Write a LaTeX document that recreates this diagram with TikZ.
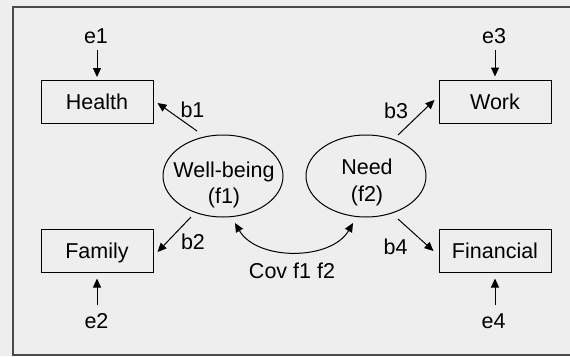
\documentclass[tikz,border=0pt]{standalone}
\usepackage{fontspec}
\setmainfont{Liberation Sans}
\usetikzlibrary{arrows.meta,calc,shapes.geometric}
\definecolor{bg}{HTML}{EEEEEE}
\definecolor{framec}{HTML}{4A4A4A}
\definecolor{inkc}{HTML}{000000}
\tikzset{
  txt/.style={font=\fontsize{21.5}{26}\selectfont, inner sep=0pt, text=inkc},
  boxnode/.style={draw=inkc, line width=1pt, minimum width=112pt, minimum height=43pt,
    inner sep=0pt, text height=15.5pt, text depth=0pt, font=\fontsize{21.5}{26}\selectfont, text=inkc},
  latent/.style={draw=inkc, line width=1pt, ellipse, minimum width=120pt, minimum height=82pt, inner sep=0pt},
  arr/.style={draw=inkc, line width=1pt, -{Triangle[length=9pt,width=8pt]}},
  darr/.style={draw=inkc, line width=1pt, {Triangle[length=9pt,width=8pt]}-{Triangle[length=9pt,width=8pt]}},
}
\begin{document}
\begin{tikzpicture}[x=1pt,y=-1pt]
\useasboundingbox (0,0) rectangle (570,356);
\fill[bg] (0,0) rectangle (570,356);
\draw[framec, line width=1.5pt] (571,7) -- (13,7) -- (13,355) -- (571,355);

% observed variables
\node[boxnode] (health) at (97,102) {Health};
\node[boxnode] (work) at (495,101.5) {Work};
\node[boxnode] (family) at (97,250.5) {Family};
\node[boxnode] (financial) at (495,250.5) {Financial};

% latent factors
\node[latent] (wb) at (223,176) {};
\node[latent] (need) at (366,176) {};
\node[txt, anchor=base] (wbt1) at (224,177) {Well-being};
\node[txt, anchor=base] (wbt2) at (224,203) {(f1)};
\node[txt, anchor=base] (nt1) at (367,174.5) {Need};
\node[txt, anchor=base] (nt2) at (367,201) {(f2)};

% errors
\node[txt, anchor=base] (e1) at (96,43) {e1};
\node[txt, anchor=base] (e3) at (494,43) {e3};
\node[txt, anchor=base] (e2) at (96.5,328) {e2};
\node[txt, anchor=base] (e4) at (493.5,328) {e4};

\draw[arr, shorten <=7pt, shorten >=3pt] (e1.south -| health.north) -- (health.north);
\draw[arr, shorten <=7pt, shorten >=3pt] (e3.south -| work.north) -- (work.north);
\draw[arr, shorten <=8pt, shorten >=6pt] (e2.north -| family.south) -- (family.south);
\draw[arr, shorten <=8pt, shorten >=6pt] (e4.north -| financial.south) -- (financial.south);

% loadings
\draw[arr] ($(wb.center)+(-26,-45)$) -- ($(health.east)+(4,1)$);
\draw[arr] ($(wb.center)+(-32,41)$) -- ($(family.east)+(4,1.5)$);
\draw[arr] ($(need.center)+(32,-41)$) -- ($(work.west)+(-4,-1.5)$);
\draw[arr] ($(need.center)+(32,43)$) -- ($(financial.west)+(-5,0.5)$);

\node[txt, anchor=base] (b1) at (192.5,117) {b1};
\node[txt, anchor=base] (b2) at (193,249) {b2};
\node[txt, anchor=base] (b3) at (396,118) {b3};
\node[txt, anchor=base] (b4) at (395.5,254) {b4};

% covariance
\coordinate (cl) at ($(wb.center)+(12,47)$);
\coordinate (cr) at ($(need.center)+(-13,47)$);
\draw[darr] (cl) .. controls ($(cl)+(22,38)$) and ($(cr)+(-22,38)$) .. (cr);
\node[txt, anchor=base] (cov) at (292,278) {Cov f1 f2};
\end{tikzpicture}
\end{document}
